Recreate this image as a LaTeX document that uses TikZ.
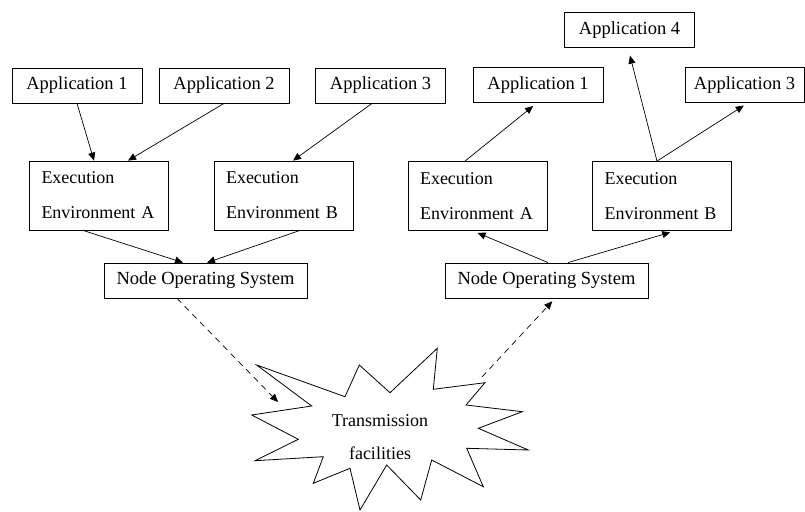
\documentclass[tikz,border=0pt]{standalone}
\usepackage{fontspec}
\setmainfont{Liberation Serif}
\usepackage{tikz}
\usetikzlibrary{positioning,shapes,arrows.meta}
\tikzset{
    app/.style={draw, line width=0.8pt, minimum width=130pt, minimum height=35pt, inner sep=0pt, font=\fontsize{18.5}{21}\selectfont},
    env/.style={draw, line width=0.8pt, text width=115pt, inner xsep=12pt, inner ysep=0pt, minimum height=69pt, align=left, font=\fontsize{18}{35}\selectfont},
    nos/.style={app, minimum width=203pt},
    link/.style={line width=0.7pt, -{Triangle[length=8pt,width=7pt]}},
    radio/.style={link, dash pattern=on 6pt off 5pt}
}

\begin{document}
\begin{tikzpicture}[x=1pt, y=-1pt]
    \useasboundingbox (0,0) rectangle (805,511);

    % left node
    \node[app] (app1L) at (77,85.5) {Application 1};
    \node[app] (app2L) at (224,85.5) {Application 2};
    \node[app] (app3L) at (380.5,85.5) {Application 3};
    \node[env, minimum width=138pt] (envAL) at (99,195.5) {Execution\\Environment A};
    \node[env, minimum width=139pt] (envBL) at (283.5,195.5) {Execution\\Environment B};
    \node[nos] (nosL) at (205.5,280.5) {Node Operating System};

    % right node
    \node[app] (app4) at (629.5,30) {Application 4};
    \node[app] (app1R) at (538,85) {Application 1};
    \node[app, minimum width=119pt] (app3R) at (744.5,85) {Application 3};
    \node[env, minimum width=139pt] (envAR) at (477.5,196) {Execution\\Environment A};
    \node[env, minimum width=138pt] (envBR) at (662,196) {Execution\\Environment B};
    \node[nos] (nosR) at (546.5,280.5) {Node Operating System};

    % transmission facilities
    \draw[line width=0.8pt, line join=miter] (256.7,365) -- (345,396.7) -- (359.3,365) -- (390,392.7)
        -- (437.3,348.3) -- (433.3,389.3) -- (485,382.7) -- (466,405) -- (522.3,411.7)
        -- (478.3,428.3) -- (528.3,450) -- (466.7,448.3) -- (483.3,486.7) -- (431.7,460)
        -- (420.7,500) -- (386.7,465) -- (360,510) -- (350,468.3) -- (313.3,483.3)
        -- (323.3,456.7) -- (255,460.7) -- (298.3,439.3) -- (251.7,415) -- (311.7,406) -- cycle;
    \node[align=center, font=\fontsize{18}{33}\selectfont] (trans) at (380,437) {Transmission\\facilities};
    \coordinate (burstin) at (278,402);
    \coordinate (burstout) at (482,377);

    \draw[link] (app1L.south) -- ([xshift=-5pt]envAL.north);
    \draw[link] (app2L.south) -- ([xshift=29pt]envAL.north);
    \draw[link] ([xshift=-8.5pt]app3L.south) -- ([xshift=9.5pt]envBL.north);
    \draw[link] ([xshift=-16pt]envAL.south) -- ([xshift=-22.5pt]nosL.north);
    \draw[link] ([xshift=16.5pt]envBL.south) -- ([xshift=1.5pt]nosL.north);
    \draw[radio] ([xshift=-28.5pt]nosL.south) -- (burstin);

    \draw[radio, shorten >=4pt] (burstout) -- ([xshift=8.5pt]nosR.south);
    \draw[link, shorten >=5pt] ([xshift=1.5pt]nosR.north) -- ([xshift=-4.5pt]envAR.south);
    \draw[link, shorten >=5pt] ([xshift=21.5pt]nosR.north) -- ([xshift=13pt]envBR.south);
    \draw[link, shorten >=5pt] ([xshift=-12.5pt]envAR.north) -- ([xshift=-1pt]app1R.south);
    \draw[link, shorten >=8pt] ([xshift=-5pt]envBR.north) -- ([xshift=-1.5pt]app4.south);
    \draw[link, shorten >=5pt] ([xshift=-5pt]envBR.north) -- ([xshift=3.5pt]app3R.south);

\end{tikzpicture}
\end{document}
